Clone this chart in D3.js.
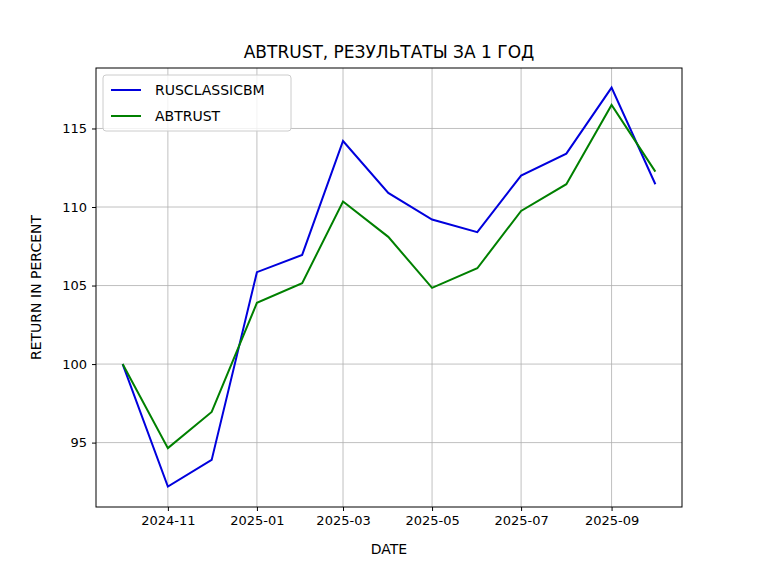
<!DOCTYPE html>
<html><head><meta charset="utf-8">
<script src="https://cdn.jsdelivr.net/npm/d3@7"></script>
<style>body{margin:0;background:#fff}svg{font-family:"DejaVu Sans",sans-serif}</style>
</head><body><svg width="758" height="569"></svg>
<script>
// monthly points
var dates = ["2024-10-01","2024-11-01","2024-12-01","2025-01-01","2025-02-01","2025-03-01","2025-04-01","2025-05-01","2025-06-01","2025-07-01","2025-08-01","2025-09-01","2025-10-01"];
var rusclassic = [100, 92.2, 93.9, 105.85, 106.95, 114.2, 110.9, 109.2, 108.4, 112.0, 113.4, 117.6, 111.45];
var abtrust = [100, 94.65, 96.95, 103.9, 105.15, 110.35, 108.1, 104.85, 106.1, 109.75, 111.45, 116.5, 112.25];
var yTicks = [95, 100, 105, 110, 115];
var xTicks = ["2024-11-01","2025-01-01","2025-03-01","2025-05-01","2025-07-01","2025-09-01"];

(function() {
var parse = d3.timeParse("%Y-%m-%d");
var dd = dates.map(parse);
var mLeft = 96, mRight = 682, mTop = 68, mBottom = 507;
var svg = d3.select("svg");

var t0 = dd[0].getTime(), t1 = dd[dd.length - 1].getTime(), pad = (t1 - t0) * 0.05;
var x = d3.scaleTime().domain([new Date(t0 - pad), new Date(t1 + pad)]).range([mLeft, mRight]);
var y = d3.scaleLinear().domain([90.9, 118.85]).range([mBottom, mTop]);

// grid
svg.append("g").selectAll("line").data(xTicks.map(parse)).enter().append("line")
    .attr("x1", function(d) { return x(d); }).attr("x2", function(d) { return x(d); })
    .attr("y1", mTop).attr("y2", mBottom).style("stroke", "#b0b0b0").style("stroke-width", 0.8);
svg.append("g").selectAll("line").data(yTicks).enter().append("line")
    .attr("y1", function(d) { return y(d); }).attr("y2", function(d) { return y(d); })
    .attr("x1", mLeft).attr("x2", mRight).style("stroke", "#b0b0b0").style("stroke-width", 0.8);

var xAxis = d3.axisBottom(x).tickValues(xTicks.map(parse)).tickFormat(d3.timeFormat("%Y-%m")).tickSize(4).tickPadding(5);
var gx = svg.append("g").attr("transform", "translate(0," + mBottom + ")").call(xAxis);
var yAxis = d3.axisLeft(y).tickValues(yTicks).tickSize(4).tickPadding(5);
var gy = svg.append("g").attr("transform", "translate(" + mLeft + ",0)").call(yAxis);
[gx, gy].forEach(function(g) {
    g.select(".domain").remove();
    g.selectAll("text").style("font-size", "13px").style("fill", "#000").style("font-family", "DejaVu Sans");
    g.selectAll("line").style("stroke", "#000");
});

var line = d3.line().x(function(d, i) { return x(dd[i]); }).y(function(d) { return y(d); });
svg.append("path").datum(rusclassic).attr("d", line).style("fill", "none").style("stroke", "#0000dd").style("stroke-width", 2);
svg.append("path").datum(abtrust).attr("d", line).style("fill", "none").style("stroke", "#008000").style("stroke-width", 2);

svg.append("rect").attr("x", mLeft).attr("y", mTop).attr("width", mRight - mLeft).attr("height", mBottom - mTop)
    .style("fill", "none").style("stroke", "#000").style("stroke-width", 1);

svg.append("text").attr("x", (mLeft + mRight) / 2).attr("y", 58).attr("text-anchor", "middle")
    .style("font-size", "17px").text("ABTRUST, РЕЗУЛЬТАТЫ ЗА 1 ГОД");
svg.append("text").attr("x", (mLeft + mRight) / 2).attr("y", 554).attr("text-anchor", "middle")
    .style("font-size", "14px").text("DATE");
svg.append("text").attr("transform", "translate(41," + (mTop + mBottom) / 2 + ") rotate(-90)").attr("text-anchor", "middle")
    .style("font-size", "14px").text("RETURN IN PERCENT");

// legend
var lg = svg.append("g");
lg.append("rect").attr("x", 103).attr("y", 75).attr("width", 188).attr("height", 56).attr("rx", 3)
    .style("fill", "#fff").style("fill-opacity", 0.8).style("stroke", "#ccc");
[["RUSCLASSICBM", "#0000dd"], ["ABTRUST", "#008000"]].forEach(function(s, i) {
    var yy = 90 + i * 26;
    lg.append("line").attr("x1", 111).attr("x2", 141).attr("y1", yy).attr("y2", yy).style("stroke", s[1]).style("stroke-width", 2);
    lg.append("text").attr("x", 155).attr("y", yy + 5).style("font-size", "14px").text(s[0]);
});
})();
</script></body></html>
